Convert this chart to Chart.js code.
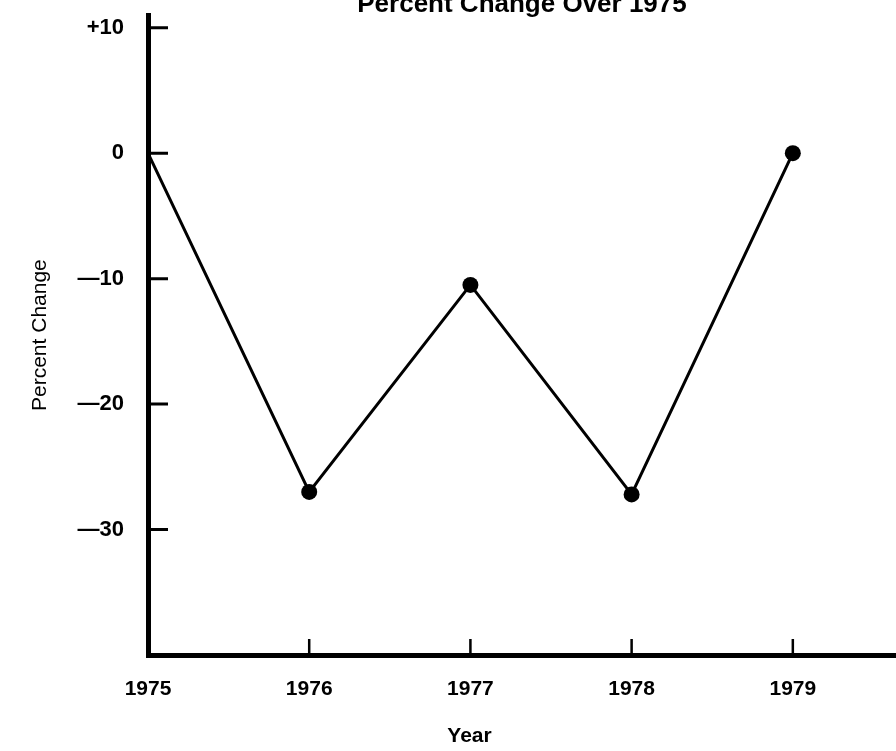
<!DOCTYPE html>
<html>
<head>
<meta charset="utf-8">
<script src="https://cdn.jsdelivr.net/npm/chart.js@4"></script>
<style>
  html, body { margin: 0; padding: 0; background: #fff; overflow: hidden; }
  canvas { display: block; margin-top: -22px; }
</style>
</head>
<body>
<canvas id="chart" width="904" height="773"></canvas>
<script>
const years = [1975, 1976, 1977, 1978, 1979];
const percentChange = [0, -27, -10.5, -27.2, 0];
const xTickLabels = ["1975", "1976", "1977", "1978", "1979"];
const yTicks = [10, 0, -10, -20, -30];
const yTickLabels = ["+10", "0", "\u201410", "\u201420", "\u201430"];

const font = "'Liberation Sans', Arial, sans-serif";

// tick marks drawn inside the plot, off the axis lines
const innerTicks = {
    id: "innerTicks",
    afterDraw(chart){
        const {ctx, chartArea, scales} = chart;
        ctx.save();
        ctx.strokeStyle = "#000";
        ctx.lineWidth = 3;
        ctx.beginPath();
        scales.y.ticks.forEach(t => {
            const py = scales.y.getPixelForValue(t.value);
            ctx.moveTo(chartArea.left, py);
            ctx.lineTo(chartArea.left + 20, py);
        });
        ctx.stroke();
        ctx.lineWidth = 2.5;
        ctx.beginPath();
        scales.x.ticks.forEach(t => {
            if(t.value === scales.x.min) return;
            const px = scales.x.getPixelForValue(t.value);
            ctx.moveTo(px, chartArea.bottom);
            ctx.lineTo(px, chartArea.bottom - 16);
        });
        ctx.stroke();
        ctx.restore();
    }
};

const ctx = document.getElementById("chart");

const chart = new Chart(ctx, {
    type: "line",
    data: {
        datasets: [{
            label: "Percent Change",
            data: years.map((yr, i) => ({x: yr, y: percentChange[i]})),
            borderColor: "#000",
            backgroundColor: "#000",
            borderWidth: 3,
            pointRadius: [0, 8, 8, 8, 8],
            pointBorderWidth: 0,
            tension: 0,
            clip: false
        }]
    },
    options: {
        responsive: false,
        animation: false,
        layout: {padding: 0},
        plugins: {
            legend: {display: false},
            tooltip: {enabled: false},
            title: {
                display: true,
                text: "Percent Change Over 1975",
                fullSize: false,
                color: "#000",
                font: {family: font, size: 26, weight: "bold", lineHeight: 0.8},
                padding: 0
            }
        },
        scales: {
            x: {
                type: "linear",
                min: 1975,
                max: 1979.64,
                afterBuildTicks: s => { s.ticks = years.map(v => ({value: v})); },
                afterFit: s => { s.height = 96; },
                grid: {display: false, drawTicks: false},
                border: {display: true, color: "#000", width: 5},
                ticks: {
                    color: "#000",
                    padding: 22,
                    autoSkip: false,
                    maxRotation: 0,
                    font: {family: font, size: 21, weight: "bold"},
                    callback: v => xTickLabels[years.indexOf(v)]
                },
                title: {
                    display: true,
                    text: "Year" + "\u00a0".repeat(18),
                    color: "#000",
                    font: {family: font, size: 21, weight: "bold"},
                    padding: {top: 0, bottom: 2}
                }
            },
            y: {
                min: -40,
                max: 11,
                afterBuildTicks: s => { s.ticks = yTicks.map(v => ({value: v})); },
                afterFit: s => { s.width = 148; },
                grid: {display: false, drawTicks: false},
                border: {display: true, color: "#000", width: 5},
                ticks: {
                    color: "#000",
                    padding: 24,
                    font: {family: font, size: 22, weight: "bold"},
                    callback: v => yTickLabels[yTicks.indexOf(v)]
                },
                title: {
                    display: true,
                    text: "Percent Change",
                    color: "#000",
                    font: {family: font, size: 21},
                    padding: {top: 28, bottom: 0}
                }
            }
        }
    },
    plugins: [innerTicks]
});
</script>
</body>
</html>
